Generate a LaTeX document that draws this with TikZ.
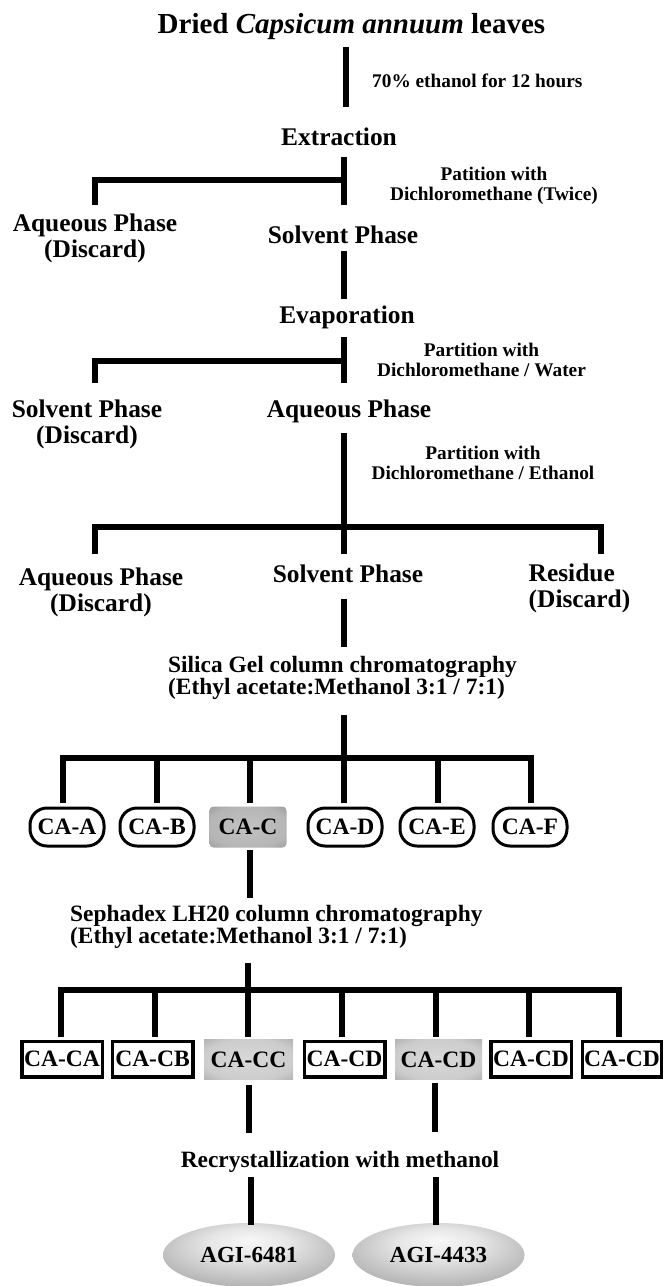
\documentclass[tikz,border=0pt]{standalone}
\usepackage{fontspec}
\setmainfont{Liberation Serif}
\usetikzlibrary{shapes.geometric}
\pgfdeclareradialshading{boxshade}{\pgfpoint{0bp}{0bp}}{color(0bp)=(black!24); color(26bp)=(black!29); color(40bp)=(black!42); color(50bp)=(black!58)}
\pgfdeclareradialshading{boxshadeb}{\pgfpoint{0bp}{0bp}}{color(0bp)=(black!15); color(26bp)=(black!20); color(40bp)=(black!34); color(50bp)=(black!52)}
\pgfdeclareradialshading{ellshade}{\pgfpoint{0bp}{12bp}}{color(0bp)=(black!3); color(12bp)=(black!10); color(30bp)=(black!30); color(45bp)=(black!48); color(50bp)=(black!55)}
\tikzset{
  conn/.style={line width=6pt, line join=miter},
  ttl/.style={font=\fontsize{29}{32}\selectfont\bfseries, inner sep=0pt},
  big/.style={font=\fontsize{25.4}{26}\selectfont\bfseries, inner sep=0pt},
  small/.style={font=\fontsize{19.3}{20}\selectfont\bfseries, inner sep=0pt},
  mid/.style={font=\fontsize{23.4}{22}\selectfont\bfseries, inner sep=0pt},
  rbox/.style={draw, line width=3pt, rounded corners=17pt, minimum width=74pt, minimum height=38pt, inner sep=0pt, fill=white, font=\fontsize{23.5}{24}\selectfont\bfseries},
  rgray/.style={rounded corners=4pt, minimum width=77pt, minimum height=41pt, inner sep=0pt, shading=boxshade, font=\fontsize{23.5}{24}\selectfont\bfseries},
  sbox/.style={draw, line width=3.5pt, minimum width=80.5pt, minimum height=35.5pt, inner sep=0pt, fill=white, font=\fontsize{23.5}{24}\selectfont\bfseries},
  sgray/.style={minimum width=88pt, minimum height=40pt, inner sep=0pt, shading=boxshadeb, font=\fontsize{23.5}{24}\selectfont\bfseries},
  prod/.style={ellipse, minimum width=172pt, minimum height=64pt, inner sep=0pt, shading=ellshade, font=\fontsize{23}{24}\selectfont\bfseries}
}
\begin{document}
\begin{tikzpicture}[x=1pt,y=-1pt]
\useasboundingbox[fill=white] (0,0) rectangle (664,1286);

% ---- text nodes ----
\node[ttl, anchor=base] (src) at (351.5,33) {Dried \textit{Capsicum annuum} leaves};
\node[small, anchor=base west] (l1) at (372,87) {70\% ethanol for 12 hours};
\node[big, anchor=base] (ext) at (339,145) {Extraction};
\node[small, align=center] (l2) at (494,186) {Patition with\\Dichloromethane (Twice)};
\node[big, align=center] (aq1) at (95,238) {Aqueous Phase\\(Discard)};
\node[big, anchor=base] (sv1) at (343,243) {Solvent Phase};
\node[big, anchor=base] (evap) at (347,323) {Evaporation};
\node[small, align=center] (l3) at (481.5,360) {Partition with\\Dichloromethane / Water};
\node[big, align=center] (sv2) at (87,424) {Solvent Phase\\(Discard)};
\node[big, anchor=base] (aq2) at (349,417) {Aqueous Phase};
\node[small, align=center] (l4) at (483,463) {Partition with\\Dichloromethane / Ethanol};
\node[big, align=center] (aq3) at (101,592) {Aqueous Phase\\(Discard)};
\node[big, anchor=base] (sv3) at (348,582) {Solvent Phase};
\node[big, align=left, anchor=west] (res) at (528.5,588) {Residue\\(Discard)};
\node[mid, align=left, anchor=west] (sil) at (168,678) {Silica Gel column chromatography\\(Ethyl acetate:Methanol 3:1 / 7:1)};
\node[mid, align=left, anchor=west] (sep) at (70,927) {Sephadex LH20 column chromatography\\(Ethyl acetate:Methanol 3:1 / 7:1)};
\node[mid, anchor=base] (rec) at (340,1167) {Recrystallization with methanol};

% ---- fraction boxes ----
\node[rbox] (caa) at (67,827) {CA-A};
\node[rbox] (cab) at (157,827) {CA-B};
\node[rgray] (cac) at (248,827) {CA-C};
\node[rbox] (cad) at (345,827) {CA-D};
\node[rbox] (cae) at (437,827) {CA-E};
\node[rbox] (caf) at (530,827) {CA-F};

\node[sbox] (ccaa) at (62,1059) {CA-CA};
\node[sbox] (ccab) at (152.5,1059) {CA-CB};
\node[sgray, minimum width=89pt] (ccac) at (248.5,1059.5) {CA-CC};
\node[sbox] (ccad) at (344.5,1059) {CA-CD};
\node[sgray, minimum width=87pt] (ccae) at (438.5,1059.5) {CA-CD};
\node[sbox] (ccaf) at (531,1059) {CA-CD};
\node[sbox, minimum width=79pt] (ccag) at (622,1059) {CA-CD};

\node[prod] (p1) at (249,1255) {AGI-6481};
\node[prod] (p2) at (438.5,1255) {AGI-4433};

% ---- connector coordinates ----
\coordinate (a1) at (346,47);   \coordinate (a2) at (346,107);
\coordinate (b1) at (344,157);  \coordinate (b2) at (344,205);
\coordinate (bj) at (344,180);  \coordinate (bl) at (95,205);
\coordinate (c1) at (344,251);  \coordinate (c2) at (344,299);
\coordinate (d1) at (344,337);  \coordinate (d2) at (344,383);
\coordinate (dj) at (344,361);  \coordinate (dl) at (95,383);
\coordinate (e1) at (344,433);  \coordinate (e2) at (344,554);
\coordinate (ej) at (344,527);  \coordinate (el) at (95,554);
\coordinate (er) at (601,554);
\coordinate (f1) at (344,599);  \coordinate (f2) at (344,647);
\coordinate (g1) at (344,715);  \coordinate (g2) at (344,803);
\coordinate (gj) at (344,758);
\coordinate (ga) at (62.7,803); \coordinate (gb) at (156.7,803);
\coordinate (gc) at (250,803);  \coordinate (ge) at (437.5,803);
\coordinate (gf) at (530.6,803);
\coordinate (h1) at (250,850);  \coordinate (h2) at (250,898);
\coordinate (i1) at (248,963);  \coordinate (i2) at (248,1037);
\coordinate (ij) at (248,990);
\coordinate (ia) at (61.4,1037); \coordinate (ib) at (154.6,1037);
\coordinate (id) at (342,1037);  \coordinate (ie) at (436,1037);
\coordinate (if) at (528.5,1037); \coordinate (ig) at (619,1037);
\coordinate (k1) at (249,1085); \coordinate (k2) at (249,1133);
\coordinate (m1) at (435,1083); \coordinate (m2) at (435,1132);
\coordinate (n1) at (250.7,1177); \coordinate (n2) at (250.7,1225);
\coordinate (o1) at (436,1177); \coordinate (o2) at (436,1225);

% ---- connectors ----
\draw[conn] (a1) -- (a2);
\draw[conn] (b1) -- (b2);
\draw[conn] (bl) |- (bj);
\draw[conn] (c1) -- (c2);
\draw[conn] (d1) -- (d2);
\draw[conn] (dl) |- (dj);
\draw[conn] (e1) -- (e2);
\draw[conn] (el) |- (ej) -| (er);
\draw[conn] (f1) -- (f2);
\draw[conn] (g1) -- (g2);
\draw[conn] (ga) |- (gj) -| (gf);
\foreach \p in {gb,gc,ge} \draw[conn] (gj -| \p) -- (\p);
\draw[conn] (h1) -- (h2);
\draw[conn] (i1) -- (i2);
\draw[conn] (ia) |- (ij) -| (ig);
\foreach \p in {ib,id,ie,if} \draw[conn] (ij -| \p) -- (\p);
\draw[conn] (k1) -- (k2);
\draw[conn] (m1) -- (m2);
\draw[conn] (n1) -- (n2);
\draw[conn] (o1) -- (o2);
\end{tikzpicture}
\end{document}
